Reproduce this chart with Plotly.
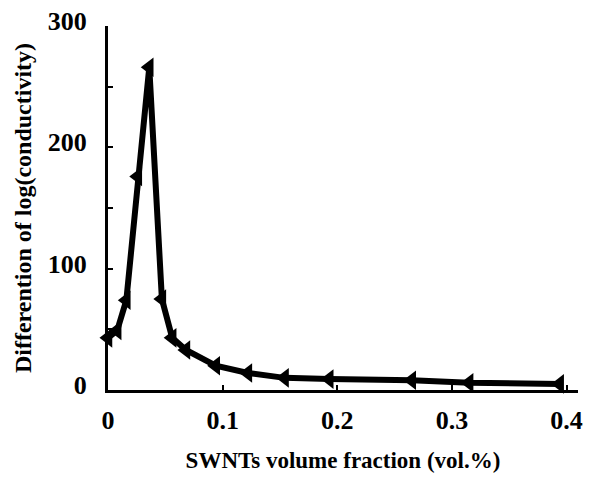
import plotly.graph_objects as go

# Data
volume_fraction = [0.0, 0.008, 0.016, 0.026, 0.036, 0.047, 0.056, 0.068,
                   0.094, 0.122, 0.154, 0.193, 0.265, 0.315, 0.394]
diff_log_cond = [43, 49, 74, 176, 266, 75, 43, 33,
                 20, 14, 10, 9, 8, 6, 5]

x_ticks = [0, 0.1, 0.2, 0.3, 0.4]
x_tick_text = ["0", "0.1", "0.2", "0.3", "0.4"]
y_ticks = [0, 100, 200, 300]
y_tick_text = ["0", "100", "200", "300"]

FONT = "Liberation Serif"

fig = go.Figure()
fig.add_trace(go.Scatter(
    x=volume_fraction, y=diff_log_cond,
    mode="lines+markers",
    line=dict(color="black", width=6),
    marker=dict(symbol="triangle-left", size=17, color="black"),
    cliponaxis=False,
    showlegend=False,
))

fig.update_layout(
    width=590, height=478,
    margin=dict(l=108, r=7, t=21, b=88),
    paper_bgcolor="white", plot_bgcolor="white",
    font=dict(family=FONT, color="black"),
    xaxis=dict(
        range=[0, 0.41],
        tickvals=x_ticks, ticktext=x_tick_text,
        showline=True, linecolor="black", linewidth=3,
        ticks="inside", ticklen=5, tickwidth=2, tickcolor="black",
        showgrid=False, zeroline=False,
        tickfont=dict(family=FONT, size=26, color="black", weight="bold"),
        ticklabelstandoff=5,
        title=dict(text="<b>SWNTs volume fraction (vol.%)</b>",
                   font=dict(family=FONT, size=23, color="black"),
                   standoff=18),
    ),
    yaxis=dict(
        range=[0, 300],
        tickvals=y_ticks, ticktext=y_tick_text,
        showline=True, linecolor="black", linewidth=3,
        ticks="inside", ticklen=5, tickwidth=2, tickcolor="black",
        minor=dict(dtick=50, ticks="inside", ticklen=5, tickwidth=2, tickcolor="black"),
        showgrid=False, zeroline=False,
        tickfont=dict(family=FONT, size=26, color="black", weight="bold"),
        ticklabelstandoff=13,
        ticklabelshift=-5,
        title=dict(text="<b>Differention of log(conductivity)</b>",
                   font=dict(family=FONT, size=24, color="black"),
                   standoff=10),
    ),
)

fig.write_html("out.html")
